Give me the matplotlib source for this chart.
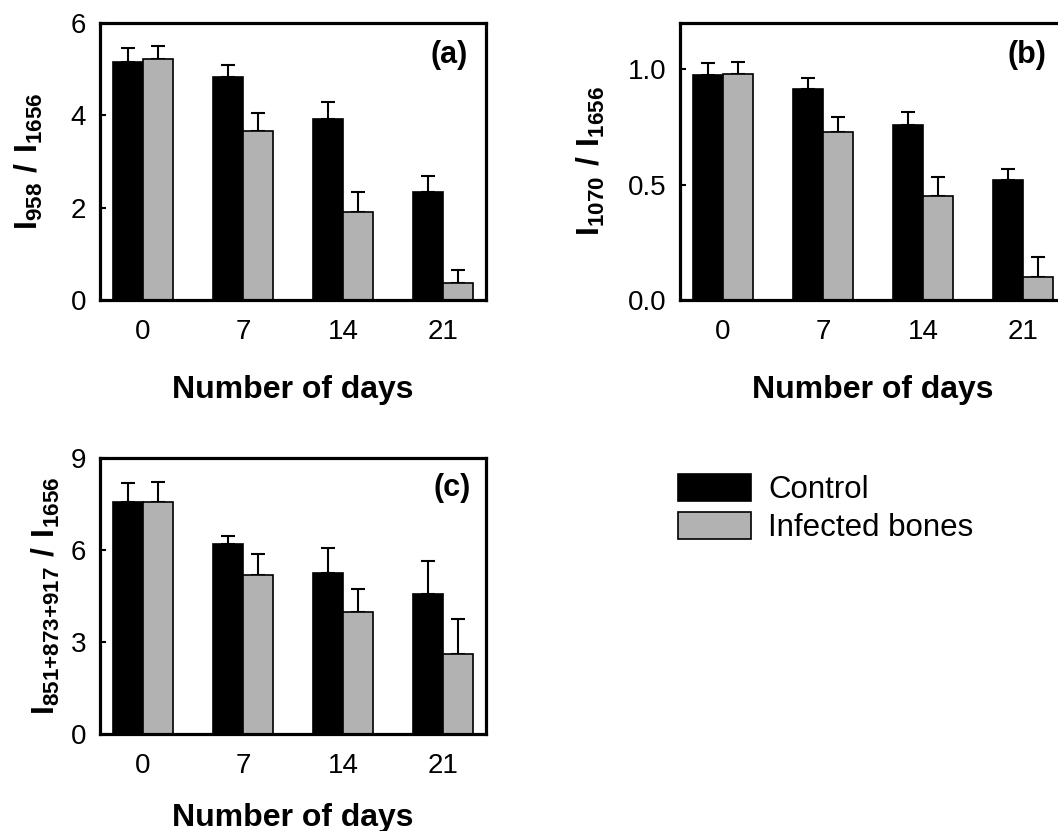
import matplotlib
matplotlib.use("Agg")
import matplotlib.pyplot as plt
import numpy as np

plt.rcParams["font.family"] = ["Liberation Sans", "DejaVu Sans"]
plt.rcParams["mathtext.fontset"] = "custom"
plt.rcParams["mathtext.rm"] = "Liberation Sans"
plt.rcParams["mathtext.bf"] = "Liberation Sans:bold"

# Data
days = ["0", "7", "14", "21"]

ctrl_a = [5.16, 4.82, 3.93, 2.33]
ctrl_a_err = [0.29, 0.27, 0.36, 0.36]
inf_a = [5.21, 3.66, 1.90, 0.36]
inf_a_err = [0.29, 0.38, 0.43, 0.29]

ctrl_b = [0.974, 0.912, 0.760, 0.522]
ctrl_b_err = [0.051, 0.050, 0.054, 0.046]
inf_b = [0.981, 0.726, 0.452, 0.101]
inf_b_err = [0.052, 0.068, 0.082, 0.085]

ctrl_c = [7.57, 6.20, 5.25, 4.55]
ctrl_c_err = [0.61, 0.27, 0.82, 1.08]
inf_c = [7.58, 5.19, 3.97, 2.62]
inf_c_err = [0.65, 0.69, 0.76, 1.12]

BLACK = "black"
GRAY = "#b2b2b2"
BAR_W = 0.3
W, H = 1058, 831


def px_axes(fig, left, top, right, bottom):
    # axes box given in pixel coordinates of the reference
    return fig.add_axes([left / W, 1 - bottom / H, (right - left) / W, (bottom - top) / H])


def draw_panel(ax, ctrl, ctrl_err, inf, inf_err, ylim, yticks, yticklabels,
               ylabel, tag, tag_xy, ylabel_x, xlabel_pad=21):
    x = np.arange(len(days))
    ax.bar(x - BAR_W / 2, ctrl, BAR_W, color=BLACK, edgecolor="black",
           linewidth=1.2, zorder=2, label="Control")
    ax.bar(x + BAR_W / 2, inf, BAR_W, color=GRAY, edgecolor="black",
           linewidth=1.2, zorder=2, label="Infected bones")
    zeros = np.zeros(len(days))
    ax.errorbar(x - BAR_W / 2, ctrl, yerr=[zeros, ctrl_err], fmt="none",
                ecolor="black", elinewidth=1.5, capsize=5, capthick=1.5, zorder=1)
    ax.errorbar(x + BAR_W / 2, inf, yerr=[zeros, inf_err], fmt="none",
                ecolor="black", elinewidth=1.5, capsize=5, capthick=1.5, zorder=1)

    ax.set_xlim(-0.43, 3.43)
    ax.set_ylim(*ylim)
    ax.set_xticks(x)
    ax.set_xticklabels(days)
    ax.set_yticks(yticks)
    ax.set_yticklabels(yticklabels)
    ax.tick_params(axis="x", length=0, pad=14, labelsize=20)
    ax.tick_params(axis="y", direction="in", length=4, width=1.5, pad=10, labelsize=20)
    for s in ax.spines.values():
        s.set_linewidth(2.3)

    ax.set_xlabel("Number of days", fontsize=23, fontweight="bold", labelpad=xlabel_pad)
    ax.set_ylabel(ylabel, fontsize=23)
    ax.yaxis.set_label_coords(ylabel_x, 0.5)
    ax.text(tag_xy[0], tag_xy[1], tag, transform=ax.transAxes, ha="right", va="top",
            fontsize=22, fontweight="bold")


fig = plt.figure(figsize=(W / 100, H / 100), dpi=100)

ax_a = px_axes(fig, 100, 23, 486, 300)
draw_panel(ax_a, ctrl_a, ctrl_a_err, inf_a, inf_a_err, (0, 6), [0, 2, 4, 6],
           ["0", "2", "4", "6"], r"$\mathbf{I_{958}\ /\ I_{1656}}$", "(a)",
           (0.953, 0.94), -0.1425)

ax_b = px_axes(fig, 680, 23, 1066, 300)
draw_panel(ax_b, ctrl_b, ctrl_b_err, inf_b, inf_b_err, (0, 1.2), [0, 0.5, 1.0],
           ["0.0", "0.5", "1.0"], r"$\mathbf{I_{1070}\ /\ I_{1656}}$", "(b)",
           (0.95, 0.94), -0.19)

ax_c = px_axes(fig, 100, 458, 486, 734)
draw_panel(ax_c, ctrl_c, ctrl_c_err, inf_c, inf_c_err, (0, 9), [0, 3, 6, 9],
           ["0", "3", "6", "9"], r"$\mathbf{I_{851{+}873{+}917}\ /\ I_{1656}}$", "(c)",
           (0.96, 0.946), -0.098, xlabel_pad=17)

handles, labels = ax_c.get_legend_handles_labels()
fig.legend(handles, labels, loc="upper left", bbox_to_anchor=(678 / W, 1 - 474 / H),
           frameon=False, fontsize=22.5, borderpad=0, borderaxespad=0,
           handlelength=2.33, handleheight=0.95, handletextpad=0.55, labelspacing=0.22)

fig.savefig("out.png", dpi=100)
